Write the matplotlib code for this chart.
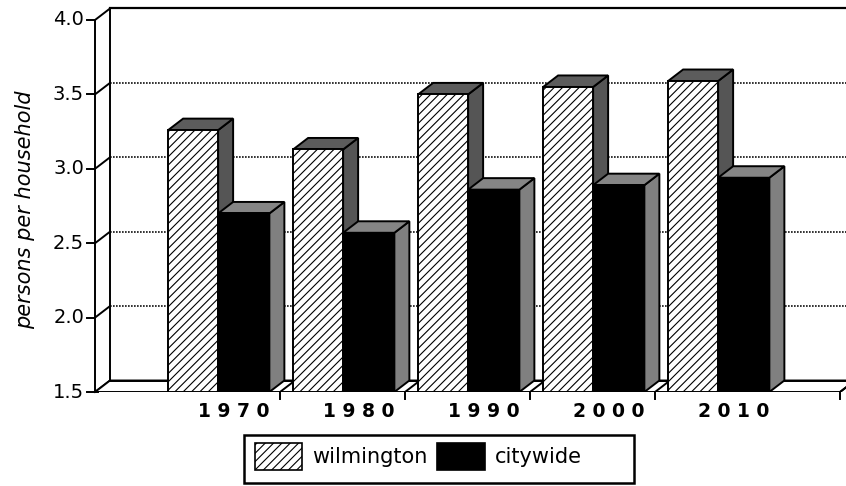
import matplotlib
matplotlib.use("Agg")
import matplotlib.pyplot as plt
from matplotlib.patches import Polygon, Rectangle

# ---- data ----
years = ["1970", "1980", "1990", "2000", "2010"]
wilmington = [3.26, 3.13, 3.50, 3.55, 3.59]
citywide = [2.70, 2.57, 2.86, 2.89, 2.94]
yticks = [1.5, 2.0, 2.5, 3.0, 3.5, 4.0]
ytick_labels = ["1.5", "2.0", "2.5", "3.0", "3.5", "4.0"]
ylabel = "persons per household"
series_names = ["wilmington", "citywide"]

plt.rcParams["font.family"] = ["DejaVu Sans"]
plt.rcParams["hatch.linewidth"] = 0.8

W, H = 846, 486
PX_X = 125.0     # pixels per category unit
PX_Y = 148.8     # pixels per y unit
fig = plt.figure(figsize=(W / 100, H / 100), dpi=100)
ax = fig.add_axes([95 / W, (H - 392) / H, 751 / W, 386 / H])
ax.set_xlim(0, 751 / PX_X)
ax.set_ylim(1.5, 1.5 + 386 / PX_Y)
ax.axis("off")

DX, DY = 15 / PX_X, 11.5 / PX_Y
base, top = yticks[0], yticks[-1]
xend = 745 / PX_X
LW = 1.4

# back wall gridlines
for v in yticks[1:-1]:
    ax.plot([DX, 7], [v + DY] * 2, color="#111111", lw=1.2, ls=(0, (1, 0.8)), zorder=1)
ax.plot([DX, 7], [top + DY] * 2, color="k", lw=1.6, zorder=1)
ax.plot([DX, DX], [base + DY, top + DY], color="k", lw=LW, zorder=1, clip_on=False)

# left wall diagonals, front axis, ticks
for v in yticks:
    ax.plot([0, DX], [v, v + DY], color="k", lw=LW, zorder=1, clip_on=False)
    ax.plot([-8 / PX_X, 0], [v, v], color="k", lw=LW, zorder=1, clip_on=False)
ax.plot([0, 0], [base, top], color="k", lw=LW, zorder=6, clip_on=False)
ax.plot([0, 3 / PX_X], [base, base], color="k", lw=LW, zorder=6, clip_on=False)
for v, lab in zip(yticks, ytick_labels):
    ax.annotate(lab, (0, v), xytext=(-11, 0), textcoords="offset pixels",
                ha="right", va="center", fontsize=14, annotation_clip=False)

# floor
floor = Polygon([(0, base), (xend, base), (xend + DX, base + DY), (DX, base + DY)],
                closed=True, fc="white", ec="k", lw=LW, zorder=2)
ax.add_patch(floor)
ax.plot([DX, 7], [base + DY] * 2, color="k", lw=LW, zorder=2)
bounds = [i + 1.48 for i in range(len(years) - 1)] + [xend]
for b in bounds:
    ax.plot([b, b], [base, base - 7 / PX_Y], color="k", lw=LW, zorder=2, clip_on=False)
    ax.plot([b, b + DX], [base, base + DY], color="k", lw=LW, zorder=2)


def bar3d(x0, w, h, fc, topc, sidec, hatch, z):
    side = Polygon([(x0 + w, base), (x0 + w + DX, base + DY), (x0 + w + DX, h + DY), (x0 + w, h)],
                   closed=True, fc=sidec, ec="k", lw=LW, zorder=z)
    topf = Polygon([(x0, h), (x0 + w, h), (x0 + w + DX, h + DY), (x0 + DX, h + DY)],
                   closed=True, fc=topc, ec="k", lw=LW, zorder=z)
    front = Rectangle((x0, base), w, h - base, fc=fc, ec="k", lw=LW, hatch=hatch, zorder=z)
    for p in (side, topf, front):
        ax.add_patch(p)


BW = 0.4
for i, (wv, cv) in enumerate(zip(wilmington, citywide)):
    xc = i + 0.985
    bar3d(xc - BW, BW, wv, "white", "#5c5c5c", "#555555", "////", 3 + 2 * i)
    bar3d(xc, BW + 0.01, cv, "black", "#858585", "#808080", None, 4 + 2 * i)
    ax.annotate(" ".join(years[i]), (i + 1.11, base), xytext=(0, -19), textcoords="offset pixels",
                ha="center", va="center", fontsize=13.5, fontweight="bold", annotation_clip=False)

fig.text(25 / W, 1 - 210 / H, ylabel, rotation=90, ha="center", va="center",
         fontsize=15, style="italic")

# legend
lax = fig.add_axes([244 / W, (H - 483) / H, 390 / W, 48 / H])
lax.set_xlim(0, 390)
lax.set_ylim(48, 0)
lax.axis("off")
lax.add_patch(Rectangle((0, 0), 390, 48, fc="white", ec="k", lw=1.8, clip_on=False))
lax.add_patch(Rectangle((11, 8), 47, 27, fc="white", ec="k", lw=1.2, hatch="////"))
lax.text(68, 21.5, series_names[0], ha="left", va="center", fontsize=15)
lax.add_patch(Rectangle((193, 8), 48, 27, fc="black", ec="k", lw=1.2))
lax.text(251, 21.5, series_names[1], ha="left", va="center", fontsize=15)

fig.savefig("out.png", dpi=100)
